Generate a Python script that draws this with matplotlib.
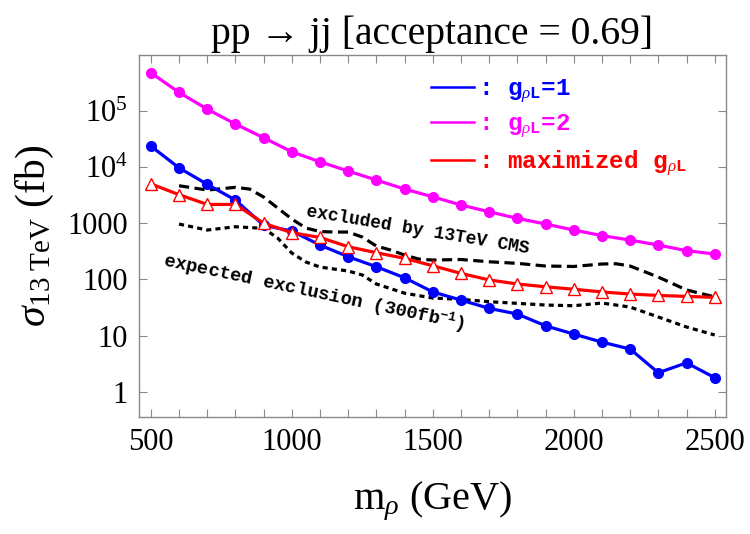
import numpy as np
import matplotlib
matplotlib.use("Agg")
import matplotlib.pyplot as plt
from matplotlib.lines import Line2D
from matplotlib.ticker import FixedLocator, FuncFormatter, LogLocator, NullFormatter, MultipleLocator

plt.rcParams['mathtext.fontset'] = 'custom'
plt.rcParams['mathtext.rm'] = 'Liberation Serif'
plt.rcParams['mathtext.it'] = 'Liberation Serif:italic'
plt.rcParams['mathtext.bf'] = 'Liberation Mono:bold'
plt.rcParams['mathtext.tt'] = 'Liberation Mono:bold'

# ---------------- data ----------------
mass = [500, 600, 700, 800, 900, 1000, 1100, 1200, 1300, 1400, 1500,
        1600, 1700, 1800, 1900, 2000, 2100, 2200, 2300, 2400, 2500]

sigma_g1 = [23400, 9600, 4900, 2570, 920, 724, 408, 253, 168, 107, 60,
            43, 30.6, 24.3, 15, 10.7, 7.7, 5.8, 2.2, 3.3, 1.8]

sigma_g2 = [469000, 210000, 106000, 57600, 32900, 18500, 12300, 8420, 5830,
            4030, 2940, 2100, 1590, 1217, 964, 754, 600, 500, 408, 324, 283]

sigma_max = [5000, 3200, 2150, 2150, 1000, 676, 558, 381, 298, 237, 175,
             128, 98, 83, 74, 67, 60, 55, 52, 50, 48]

cms_obs_mass = [600, 700, 800, 850, 900, 950, 1000, 1050, 1100, 1150, 1200,
                1250, 1300, 1350, 1400, 1450, 1500, 1600, 1700, 1800, 1900,
                2000, 2100, 2150, 2200, 2300, 2400, 2500]
cms_obs = [4615, 3870, 4325, 4035, 2910, 1855, 1183, 818, 709, 695, 695,
           566, 392, 333, 271, 230, 221, 226, 206, 193, 173,
           170, 188, 190, 173, 110, 65, 49]

cms_exp_mass = [600, 700, 800, 900, 950, 1000, 1050, 1100, 1200, 1250, 1300,
                1400, 1500, 1600, 1700, 1800, 1900, 2000, 2100, 2200, 2300,
                2400, 2500]
cms_exp = [964, 754, 863, 808, 543, 294, 204, 166, 141, 120, 83,
           57, 46.7, 44.3, 40.2, 37.6, 35.1, 34.1, 38.1, 32.3, 21.5,
           14.3, 10.3]

y_ticks = [1, 10, 100, 1000, 1e4, 1e5]
y_tick_labels = ['1', '10', '100', '1000', r'10$^4$', r'10$^5$']
x_ticks = [500, 1000, 1500, 2000, 2500]

# ---------------- figure ----------------
fig = plt.figure(figsize=(7.5, 5.34), dpi=100)
ax = fig.add_axes([0.1853, 0.2191, 0.7827, 0.6779])
ax.set_yscale('log')
ax.set_xlim(458, 2540)
ax.set_ylim(0.36, 9.7e5)

BLUE = '#0000ff'
MAG = '#ff00ff'
RED = '#ff0000'

ax.plot(cms_obs_mass, cms_obs, color='black', lw=2.3, dashes=(3.2, 1.7), zorder=2)
ax.plot(cms_exp_mass, cms_exp, color='black', lw=2.3, dashes=(1.6, 1.3), zorder=2)
ax.plot(mass, sigma_g2, color=MAG, lw=2.3, marker='o', ms=7, zorder=3)
ax.plot(mass, sigma_g1, color=BLUE, lw=2.3, marker='o', ms=7, zorder=3)
ax.plot(mass, sigma_max, color=RED, lw=2.3, marker='^', ms=8, mfc='white',
        mec=RED, mew=1.0, zorder=4)

# ticks
serif = 'Liberation Serif'
ax.xaxis.set_major_locator(FixedLocator(x_ticks))
ax.xaxis.set_minor_locator(MultipleLocator(100))
ax.yaxis.set_major_locator(FixedLocator(y_ticks))
ax.yaxis.set_major_formatter(FuncFormatter(
    lambda v, p: y_tick_labels[y_ticks.index(v)] if v in y_ticks else ''))
ax.yaxis.set_minor_locator(LogLocator(base=10, subs=np.arange(2, 10)))
ax.yaxis.set_minor_formatter(NullFormatter())
ax.tick_params(which='both', direction='in', top=True, right=True,
               color='#888888', labelsize=22, pad=8)
ax.tick_params(which='major', length=6, width=0.8)
ax.tick_params(which='minor', length=3.5, width=0.6)
ax.tick_params(axis='x', which='minor', length=6, width=0.8)
for lab in ax.get_xticklabels() + ax.get_yticklabels():
    lab.set_fontfamily(serif)
for s in ax.spines.values():
    s.set_color('#888888')
    s.set_linewidth(1.0)

ax.set_title('pp \u2192 jj [acceptance = 0.69]', fontsize=28.5,
             fontfamily=serif, pad=8)
ax.set_xlabel(r'm$_\rho$ (GeV)', fontsize=29, fontfamily=serif, labelpad=16)
ax.set_ylabel(r'$\sigma_{\mathrm{13\ TeV}}$ (fb)', fontsize=30,
              fontfamily=serif, labelpad=8)

# legend
handles = [Line2D([], [], color=BLUE, lw=1.8),
           Line2D([], [], color=MAG, lw=1.8),
           Line2D([], [], color=RED, lw=1.8)]
labels = [r': $\mathbf{g}_{\rho\mathbf{L}}$=1',
          r': $\mathbf{g}_{\rho\mathbf{L}}$=2',
          r': maximized $\mathbf{g}_{\rho\mathbf{L}}$']
leg = ax.legend(handles, labels, loc='upper left',
                bbox_to_anchor=(0.497, 0.94), frameon=False,
                prop={'family': 'Liberation Mono', 'weight': 'bold', 'size': 17.5},
                handlelength=1.8, handletextpad=0.15, labelspacing=0.32,
                borderpad=0, borderaxespad=0)
for t, c in zip(leg.get_texts(), [BLUE, MAG, RED]):
    t.set_color(c)

# annotations
ax.text(1447, 760, 'excluded by 13TeV CMS', rotation=-9.5,
        rotation_mode='anchor', ha='center', va='center',
        fontfamily='Liberation Mono', fontweight='bold', fontsize=13)
ax.text(1080, 58, r'expected exclusion (300fb$^{\mathbf{-1}}$)', rotation=-12,
        rotation_mode='anchor', ha='center', va='center',
        fontfamily='Liberation Mono', fontweight='bold', fontsize=13.5)

fig.savefig('out.png', dpi=100)
